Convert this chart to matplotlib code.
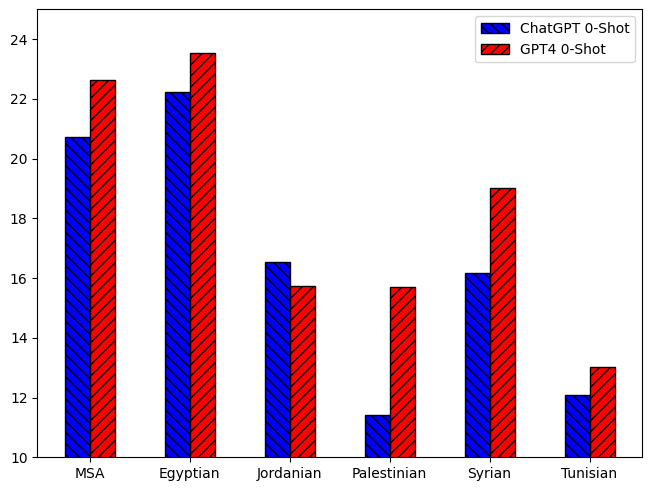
import numpy as np
import matplotlib.pyplot as plt

# dialects and scores
dialects = ["MSA", "Egyptian", "Jordanian", "Palestinian", "Syrian", "Tunisian"]
chatgpt = [20.73, 22.23, 16.54, 11.41, 16.17, 12.08]
gpt4 = [22.65, 23.54, 15.74, 15.70, 19.02, 13.02]

x = np.arange(len(dialects))
w = 0.25

fig = plt.figure(figsize=(6.51, 4.91), dpi=100)
ax = fig.add_subplot(111)
ax.bar(x - w / 2, chatgpt, w, color='blue', edgecolor='black', hatch='\\\\\\', label='ChatGPT 0-Shot')
ax.bar(x + w / 2, gpt4, w, color='red', edgecolor='black', hatch='///', label='GPT4 0-Shot')
ax.set_xticks(x)
ax.set_xticklabels(dialects)
ax.set_ylim(10, 25)
ax.legend(loc='upper right')
plt.subplots_adjust(left=0.0573, right=0.9862, bottom=0.0686, top=0.981)
plt.savefig("out.png")
plt.close()
